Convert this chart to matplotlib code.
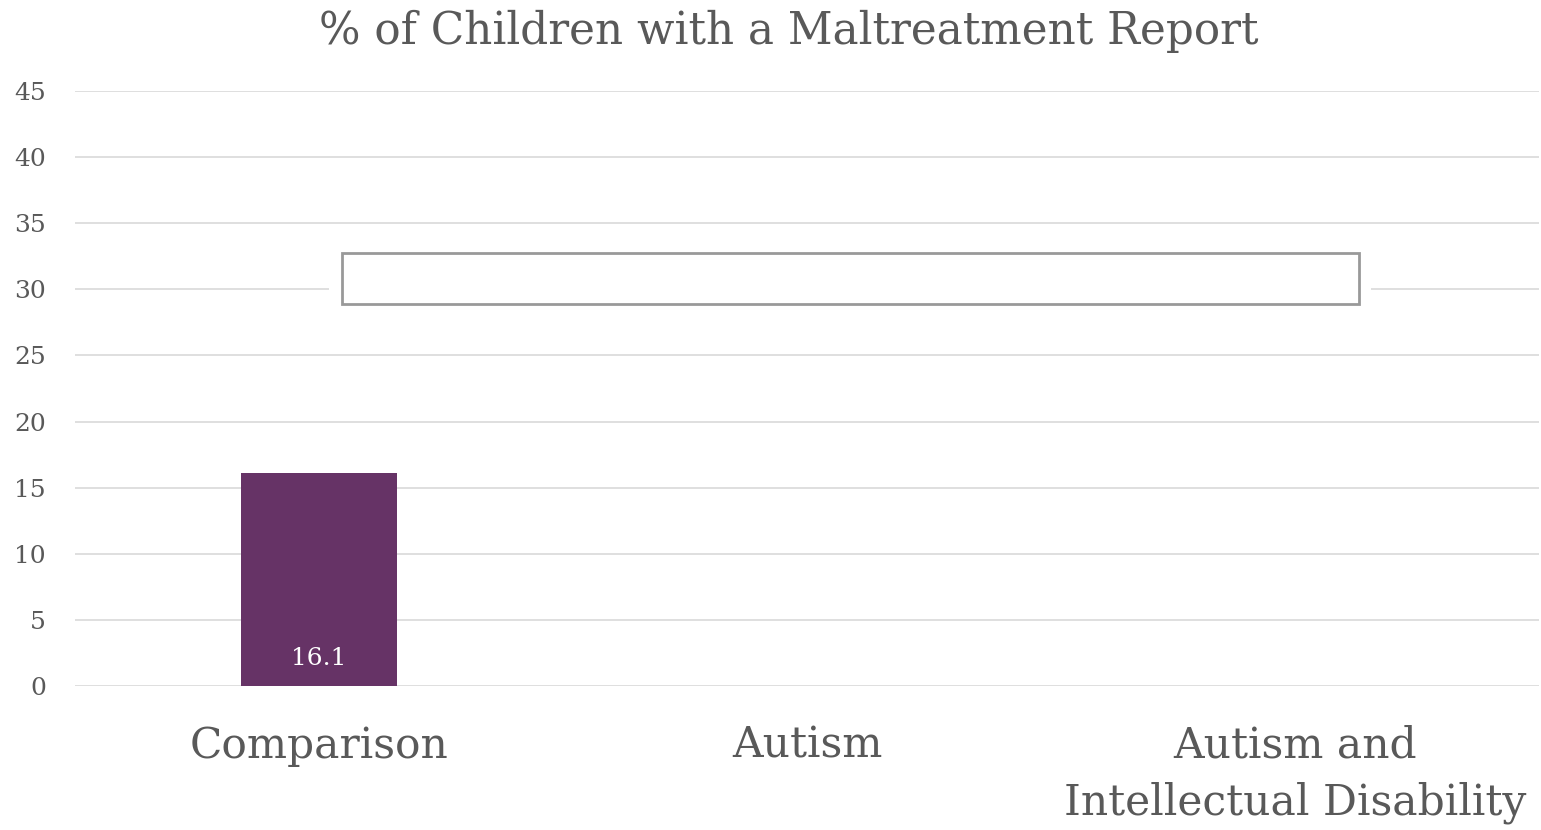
import numpy as np
import matplotlib
matplotlib.use("Agg")
import matplotlib.pyplot as plt
from matplotlib.patches import Rectangle

categories = ["Comparison", "Autism", "Autism and\nIntellectual Disability"]
values = [16.1, np.nan, np.nan]
yticks = [0, 5, 10, 15, 20, 25, 30, 35, 40, 45]
title = "% of Children with a Maltreatment Report"

plt.rcParams['font.family'] = ['DejaVu Serif']
text_color = "#595959"
bar_color = "#663366"

fig = plt.figure(figsize=(15.41, 8.30), dpi=100)
ax = fig.add_axes([0.0487, 0.1735, 0.9503, 0.7169])

x = np.arange(len(categories))
bars = ax.bar(x, values, width=0.32, color=bar_color, zorder=2)
for xi, v in zip(x, values):
    if not np.isnan(v):
        ax.annotate(f"{v:.1f}", (xi, 0), xytext=(0, 20), textcoords="offset points",
                    ha="center", va="center", color="white", fontsize=18, zorder=3)

ax.set_xlim(-0.5, len(categories) - 0.5)
ax.set_ylim(0, 45)
ax.set_yticks(yticks)
ax.set_yticklabels([str(t) for t in yticks])
ax.set_xticks(x)
ax.set_xticklabels(categories, fontsize=30.5, color=text_color, linespacing=1.45, va="top")
ax.tick_params(axis='x', length=0, pad=28)
ax.tick_params(axis='y', length=0, pad=21, labelsize=18, labelcolor=text_color)

ax.grid(axis='y', color="#d9d9d9", linewidth=1.2, zorder=0)
ax.set_axisbelow(True)
for s in ax.spines.values():
    s.set_visible(False)

# overlaid text-box shape
ax.add_patch(Rectangle((0.1734, 0.632), 0.7116, 0.105, transform=ax.transAxes,
                       facecolor="white", edgecolor="none", zorder=4))
ax.add_patch(Rectangle((0.1823, 0.642), 0.6947, 0.086, transform=ax.transAxes,
                       facecolor="white", edgecolor="#999999", linewidth=2, zorder=5))

fig.text(0.512, 0.962, title, ha="center", va="center", fontsize=31.5, color=text_color)

fig.savefig("out.png", dpi=100)
